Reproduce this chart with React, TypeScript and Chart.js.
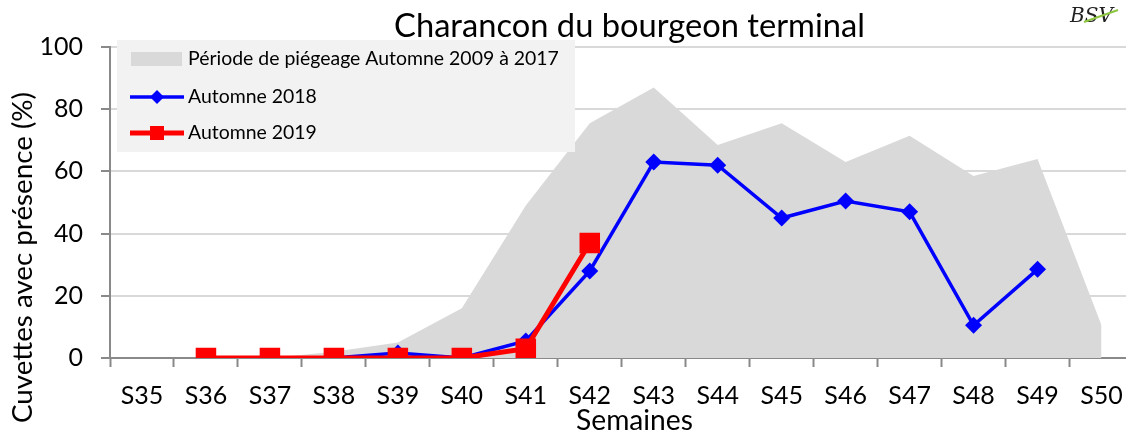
import React, { useEffect, useRef } from "react";
import { Chart, registerables } from "chart.js";

Chart.register(...registerables);

const weeks = ["S35", "S36", "S37", "S38", "S39", "S40", "S41", "S42", "S43", "S44", "S45", "S46", "S47", "S48", "S49", "S50"];
const historicalRange = [0, 0, 0, 2, 5, 16, 49, 75.5, 87, 68.5, 75.5, 63, 71.5, 58.5, 64, 10.5];
const autumn2018 = [null, 0, 0, 0, 1.6, 0, 5.5, 28, 63, 62, 45, 50.5, 47, 10.5, 28.5, null];
const autumn2019 = [null, 0, 0, 0, 0, 0, 3, 37, null, null, null, null, null, null, null, null];
const yTickValues = [0, 20, 40, 60, 80, 100];

const titleText = "Charancon du bourgeon terminal";
const yTitleText = "Cuvettes avec présence (%)";
const xTitleText = "Semaines";
const legendLabels = ["Période de piégeage Automne 2009 à 2017", "Automne 2018", "Automne 2019"];

const FONT = "Lato, 'Open Sans', sans-serif";
const GREY_AREA = "#d9d9d9";
const AXIS = "#898989";
const CANVAS_W = 1148;
const CANVAS_H = 433;

function fitSize(ctx: CanvasRenderingContext2D, text: string, target: number) {
  ctx.font = `100px ${FONT}`;
  const w = ctx.measureText(text).width;
  return (100 * target) / w;
}

const overlayPlugin = {
  id: "overlay",
  afterDraw(chart: any) {
    const ctx: CanvasRenderingContext2D = chart.ctx;
    ctx.save();
    ctx.fillStyle = "#000";

    // Title
    let s = fitSize(ctx, titleText, 471);
    ctx.font = `${s}px ${FONT}`;
    ctx.textAlign = "center";
    ctx.textBaseline = "alphabetic";
    ctx.fillText(titleText, 629.5, 37);

    // X title
    s = fitSize(ctx, xTitleText, 117);
    ctx.font = `${s}px ${FONT}`;
    ctx.fillText(xTitleText, 634.5, 430);

    // Y title
    s = fitSize(ctx, yTitleText, 331);
    ctx.save();
    ctx.translate(32, 257.5);
    ctx.rotate(-Math.PI / 2);
    ctx.font = `${s}px ${FONT}`;
    ctx.fillText(yTitleText, 0, 0);
    ctx.restore();

    // Legend box
    ctx.fillStyle = "#f2f2f2";
    ctx.fillRect(117, 40, 458, 112);

    const ls = fitSize(ctx, legendLabels[1], 129);
    ctx.font = `${ls}px ${FONT}`;
    ctx.textAlign = "left";
    ctx.textBaseline = "middle";

    // Row 1: area swatch
    ctx.fillStyle = GREY_AREA;
    ctx.fillRect(131, 52, 51, 14);
    ctx.fillStyle = "#000";
    ctx.fillText(legendLabels[0], 188, 59);

    // Row 2: blue line + diamond
    ctx.strokeStyle = "#0000ff";
    ctx.lineWidth = 3.5;
    ctx.beginPath();
    ctx.moveTo(130, 97);
    ctx.lineTo(184, 97);
    ctx.stroke();
    ctx.fillStyle = "#0000ff";
    ctx.beginPath();
    ctx.moveTo(157, 90);
    ctx.lineTo(164, 97);
    ctx.lineTo(157, 104);
    ctx.lineTo(150, 97);
    ctx.closePath();
    ctx.fill();
    ctx.fillStyle = "#000";
    ctx.fillText(legendLabels[1], 188, 97);

    // Row 3: red line + square
    ctx.strokeStyle = "#ff0000";
    ctx.lineWidth = 5;
    ctx.beginPath();
    ctx.moveTo(130, 133);
    ctx.lineTo(184, 133);
    ctx.stroke();
    ctx.fillStyle = "#ff0000";
    ctx.fillRect(150, 126, 14, 14);
    ctx.fillStyle = "#000";
    ctx.fillText(legendLabels[2], 188, 133);

    // Logo (approximation)
    ctx.font = `italic 20px 'DejaVu Serif', serif`;
    ctx.fillStyle = "#222";
    ctx.textAlign = "left";
    ctx.textBaseline = "alphabetic";
    ctx.fillText("BSV", 1070, 22);
    ctx.strokeStyle = "#8dc63f";
    ctx.lineWidth = 2;
    ctx.beginPath();
    ctx.moveTo(1084, 22);
    ctx.lineTo(1118, 10);
    ctx.stroke();
    ctx.restore();
  },
};

export default function App() {
  const ref = useRef<HTMLCanvasElement | null>(null);

  useEffect(() => {
    document.body.style.margin = "0";
    document.body.style.overflow = "hidden";
    document.documentElement.style.overflow = "hidden";
    if (!ref.current) return;
    const chart = new Chart(ref.current, {
      type: "line",
      data: {
        labels: weeks,
        datasets: [
          {
            label: legendLabels[2],
            data: autumn2019,
            borderColor: "#ff0000",
            backgroundColor: "#ff0000",
            borderWidth: 5,
            pointStyle: "rect",
            pointRadius: 14.5,
            pointBorderWidth: 0,
            pointBackgroundColor: "#ff0000",
            tension: 0,
            fill: false,
            order: 1,
          },
          {
            label: legendLabels[1],
            data: autumn2018,
            borderColor: "#0000ff",
            backgroundColor: "#0000ff",
            borderWidth: 3.5,
            pointStyle: "rectRot",
            pointRadius: 8.5,
            pointBorderWidth: 0,
            pointBackgroundColor: "#0000ff",
            tension: 0,
            fill: false,
            order: 2,
          },
          {
            label: legendLabels[0],
            data: historicalRange,
            borderColor: "rgba(0,0,0,0)",
            backgroundColor: GREY_AREA,
            borderWidth: 0,
            pointRadius: 0,
            tension: 0,
            fill: "origin",
            order: 3,
          },
        ],
      },
      options: {
        responsive: false,
        animation: false,
        layout: { padding: { left: 0, right: 6, top: 47, bottom: 0 } },
        plugins: {
          legend: { display: false },
          title: { display: false },
          tooltip: { enabled: false },
        },
        scales: {
          x: {
            offset: true,
            grid: {
              drawOnChartArea: false,
              drawTicks: true,
              tickLength: 9,
              tickColor: AXIS,
              tickWidth: 2,
              offset: true,
            },
            border: { color: AXIS, width: 2 },
            ticks: {
              font: { family: FONT, size: 25 },
              color: "#000",
              padding: 14,
              maxRotation: 0,
              autoSkip: false,
            },
            afterFit: (s: any) => {
              s.height = 75;
            },
          },
          y: {
            min: 0,
            max: 100,
            afterBuildTicks: (s: any) => {
              s.ticks = yTickValues.map((v) => ({ value: v }));
            },
            grid: {
              color: GREY_AREA,
              lineWidth: 2,
              tickLength: 9,
              tickColor: AXIS,
              tickWidth: 2,
            },
            border: { color: AXIS, width: 2 },
            ticks: {
              font: { family: FONT, size: 25 },
              color: "#000",
              padding: 18,
            },
            afterFit: (s: any) => {
              s.width = 110;
            },
          },
        },
      },
      plugins: [overlayPlugin],
    } as any);
    return () => chart.destroy();
  }, []);

  return (
    <div style={{ position: "absolute", left: 0, top: 0, width: CANVAS_W, height: CANVAS_H, background: "#fff" }}>
      <canvas ref={ref} width={CANVAS_W} height={CANVAS_H} style={{ display: "block", width: CANVAS_W, height: CANVAS_H }} />
    </div>
  );
}
